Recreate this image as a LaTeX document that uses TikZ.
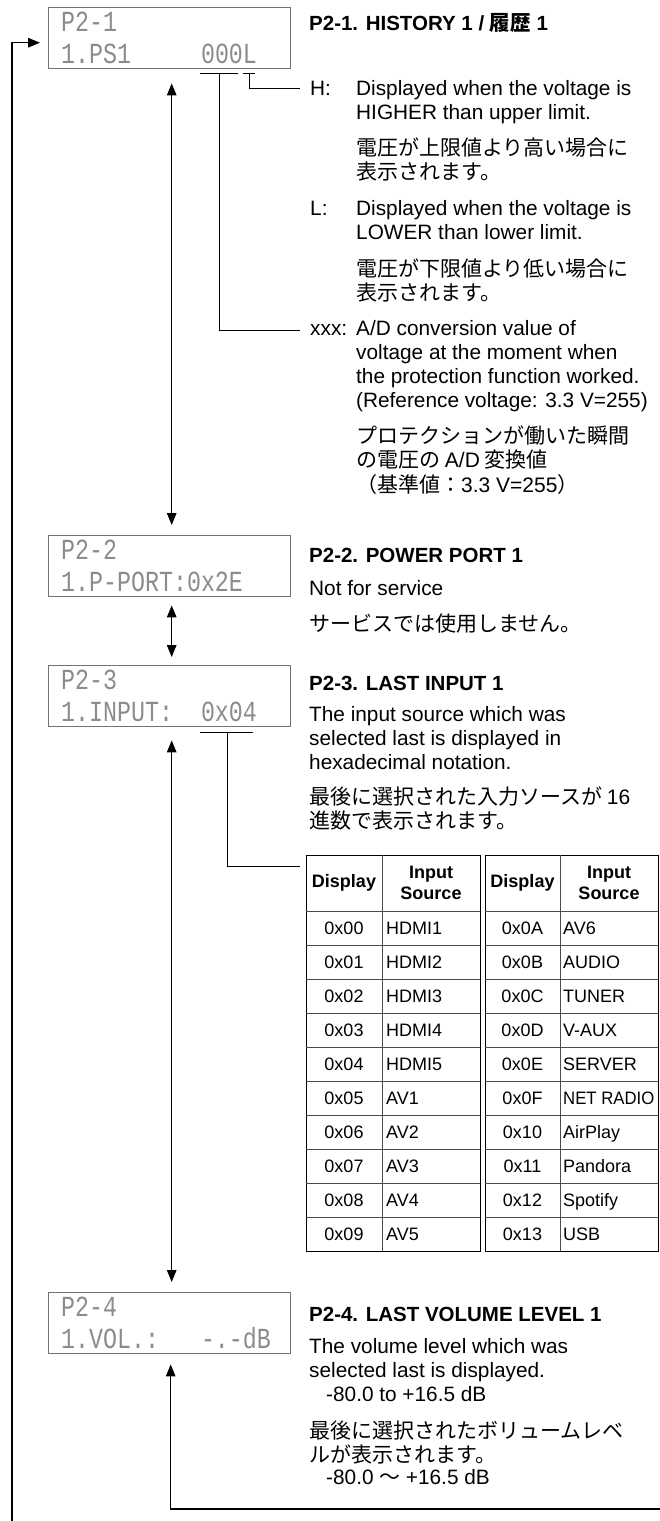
\documentclass[tikz,border=0pt]{standalone}
\usepackage{fontspec}
\setmainfont{Liberation Sans}
\newfontfamily\jp{Noto Sans CJK JP}
\newfontfamily\lcdfont{Liberation Mono}
\usetikzlibrary{arrows.meta}
\newcommand\mlines[1]{\begin{tabular}[t]{@{}l@{}}#1\end{tabular}}
\newcommand\latn[1]{{\normalfont #1}}
\tikzset{
  lcdbox/.style={draw=black!55, line width=1.4pt, minimum width=242pt, minimum height=61pt, inner sep=0pt, anchor=north west},
  lcdtxt/.style={anchor=base west, inner sep=0pt, text=black!45, font=\lcdfont\fontsize{23.3}{24}\selectfont},
  ttl/.style={anchor=base west, inner sep=0pt, font=\bfseries\fontsize{20.5}{24}\selectfont},
  body/.style={anchor=base west, inner sep=0pt, font=\fontsize{20.8}{24}\selectfont},
  jpbody/.style={anchor=base west, inner sep=0pt, font=\jp\fontsize{21}{23}\selectfont},
  arr/.style={line width=1.4pt, -{Triangle[length=12pt,width=9.5pt]}},
  darr/.style={line width=1.4pt, {Triangle[length=12pt,width=9.5pt]}-{Triangle[length=12pt,width=9.5pt]}},
  conn/.style={line width=1pt},
  tblout/.style={draw, line width=1.4pt, inner sep=0pt, anchor=north west},
  tin/.style={line width=1pt, black!70},
  cell/.style={inner sep=0pt, font=\fontsize{18}{20}\selectfont},
  hcell/.style={inner sep=0pt, align=center, font=\bfseries\fontsize{18}{21}\selectfont},
}
\begin{document}
\begin{tikzpicture}[x=1pt,y=-1pt]
\fill[white] (0,0) rectangle (660,1521);
\useasboundingbox (0,0) rectangle (660,1521);

% ---------- LCD boxes ----------
\node[lcdbox] (lcd1) at (48,7) {};
\node[lcdtxt] (lcd1a) at (61,31.5) {\scalebox{1}[1.25]{P2-1}};
\node[lcdtxt] (lcd1b) at (61,63.5) {\scalebox{1}[1.25]{1.PS1\phantom{00000}000L}};

\node[lcdbox] (lcd2) at (48,535) {};
\node[lcdtxt] (lcd2a) at (61,559.5) {\scalebox{1}[1.25]{P2-2}};
\node[lcdtxt] (lcd2b) at (61,591.5) {\scalebox{1}[1.25]{1.P-PORT:0x2E}};

\node[lcdbox] (lcd3) at (48,665) {};
\node[lcdtxt] (lcd3a) at (61,689.5) {\scalebox{1}[1.25]{P2-3}};
\node[lcdtxt] (lcd3b) at (61,721.5) {\scalebox{1}[1.25]{1.INPUT:\phantom{00}0x04}};

\node[lcdbox] (lcd4) at (48,1292) {};
\node[lcdtxt] (lcd4a) at (61,1316.5) {\scalebox{1}[1.25]{P2-4}};
\node[lcdtxt] (lcd4b) at (61,1348.5) {\scalebox{1}[1.25]{1.VOL.:\phantom{000}-.-dB}};

% ---------- P2-1 texts ----------
\node[ttl] (t1) at (309,30) {P2-1. HISTORY 1 / {\jp 履歴} 1};
\node[body] (hlab) at (310,95.5) {H:};
\node[body] (htxt) at (356,95.5) {\mlines{Displayed when the voltage is\\HIGHER than upper limit.}};
\node[jpbody] (hjp) at (356,155) {\mlines{電圧が上限値より高い場合に\\表示されます。}};
\node[body] (llab) at (310,215.5) {L:};
\node[body] (ltxt) at (356,215.5) {\mlines{Displayed when the voltage is\\LOWER than lower limit.}};
\node[jpbody] (ljp) at (356,276) {\mlines{電圧が下限値より低い場合に\\表示されます。}};
\node[body] (xlab) at (310,335.5) {xxx:};
\node[body] (xtxt) at (356,335.5) {\mlines{A/D conversion value of\\voltage at the moment when\\the protection function worked.\\(Reference voltage: 3.3 V=255)}};
\node[jpbody] (xjp) at (356,443) {\mlines{プロテクションが働いた瞬間\\の電圧の \latn{A/D} 変換値\\（基準値：\latn{3.3 V=255}）}};

% ---------- P2-2 texts ----------
\node[ttl] (t2) at (309,562.5) {P2-2. POWER PORT 1};
\node[body] (b2) at (309,595.5) {Not for service};
\node[jpbody] (j2) at (309,631) {サービスでは使用しません。};

% ---------- P2-3 texts ----------
\node[ttl] (t3) at (309,690.5) {P2-3. LAST INPUT 1};
\node[body] (b3) at (309,721.5) {\mlines{The input source which was\\selected last is displayed in\\hexadecimal notation.}};
\node[jpbody] (j3) at (309,804) {\mlines{最後に選択された入力ソースが \latn{16}\\進数で表示されます。}};

% ---------- P2-4 texts ----------
\node[ttl] (t4) at (309,1321.5) {P2-4. LAST VOLUME LEVEL 1};
\node[body] (b4) at (309,1353.5) {\mlines{The volume level which was\\selected last is displayed.\\\hspace{17pt}-80.0 to +16.5 dB}};
\node[jpbody] (j4) at (309,1438) {\mlines{最後に選択されたボリュームレベ\\ルが表示されます。}};
\node[body] (r4) at (326,1484.5) {-80.0 {\jp 〜} +16.5 dB};

% ---------- underlines and pointer lines ----------
\coordinate (u1a) at (200,73); \coordinate (u1b) at (238,73);
\coordinate (u2a) at (243,73); \coordinate (u2b) at (255,73);
\coordinate (u1m) at (219,73); \coordinate (u2m) at (249,73);
\draw[conn] (u1a) -- (u1b);
\draw[conn] (u2a) -- (u2b);
\draw[conn] (u2m) |- ([xshift=-10pt]hlab.west);
\draw[conn] (u1m) |- ([xshift=-10pt]xlab.west);

\coordinate (u3a) at (200,732); \coordinate (u3b) at (253,732);
\coordinate (u3m) at (227,732);
\draw[conn] (u3a) -- (u3b);

% ---------- tables ----------
\node[tblout, minimum width=174pt, minimum height=396pt] (tblL) at (306,855) {};
\node[tblout, minimum width=173pt, minimum height=396pt] (tblR) at (485,855) {};
\draw[conn] (u3m) |- ([xshift=-6pt,yshift=-11pt]tblL.north west);

\draw[tin] (382,855) -- (382,1251);
\draw[tin] (560,855) -- (560,1251);
\foreach \k in {0,...,9} {
  \draw[tin] (306,911+34*\k) -- (480,911+34*\k);
  \draw[tin] (485,911+34*\k) -- (658,911+34*\k);
}
\node[hcell] (hLd) at (344,883) {Display};
\node[hcell] (hLs) at (431,883) {Input\\Source};
\node[hcell] (hRd) at (522.5,883) {Display};
\node[hcell] (hRs) at (609,883) {Input\\Source};

\foreach \d/\s [count=\i from 0] in {0x00/HDMI1,0x01/HDMI2,0x02/HDMI3,0x03/HDMI4,0x04/HDMI5,0x05/AV1,0x06/AV2,0x07/AV3,0x08/AV4,0x09/AV5} {
  \node[cell, anchor=base] (ld\i) at (344,{934.5+34*\i}) {\d};
  \node[cell, anchor=base west] (ls\i) at (386,{934.5+34*\i}) {\s};
}
\foreach \d/\s [count=\i from 0] in {0x0A/AV6,0x0B/AUDIO,0x0C/TUNER,0x0D/V-AUX,0x0E/SERVER,0x0F/{\scalebox{0.93}[1]{NET RADIO}},0x10/AirPlay,0x11/Pandora,0x12/Spotify,0x13/USB} {
  \node[cell, anchor=base] (rd\i) at (522.5,{934.5+34*\i}) {\d};
  \node[cell, anchor=base west] (rs\i) at (563,{934.5+34*\i}) {\s};
}

% ---------- navigation arrows ----------
\draw[darr] ([xshift=2pt,yshift=-14pt]lcd1.south) -- ([xshift=2pt,yshift=10pt]lcd2.north);
\draw[darr] ([xshift=2pt,yshift=-8pt]lcd2.south) -- ([xshift=2pt,yshift=8pt]lcd3.north);
\draw[darr] ([xshift=2pt,yshift=-13pt]lcd3.south) -- ([xshift=2pt,yshift=10pt]lcd4.north);

\coordinate (loopB) at (12,1521);
\draw[arr] (loopB) |- ([xshift=-8pt,yshift=-4.5pt]lcd1.west);
\coordinate (botR) at (660,1509);
\draw[arr] (botR) -| ([xshift=1pt,yshift=-10pt]lcd4.south);
\end{tikzpicture}
\end{document}
